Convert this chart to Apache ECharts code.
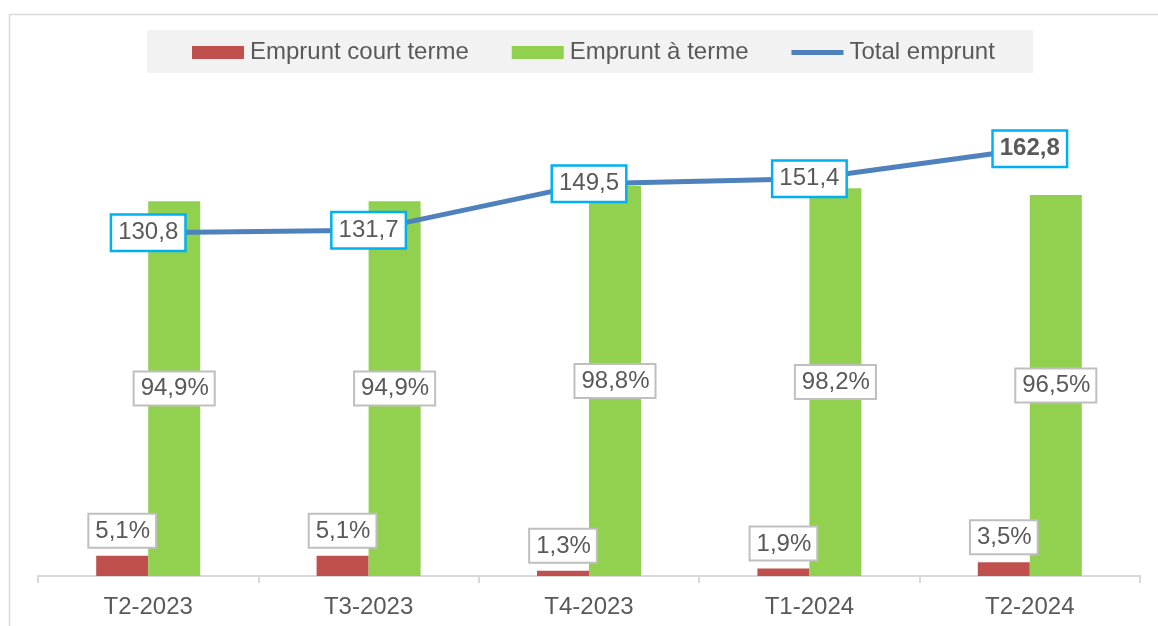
<!DOCTYPE html>
<html>
<head>
<meta charset="utf-8">
<script src="https://cdn.jsdelivr.net/npm/echarts@6/dist/echarts.min.js"></script>
<style>
  html, body { margin: 0; padding: 0; background: #fff; }
  #chart { width: 1158px; height: 626px; }
</style>
</head>
<body>
<div id="chart"></div>
<script>
// trimestres
const categories = ["T2-2023", "T3-2023", "T4-2023", "T1-2024", "T2-2024"];
// parts en %
const courtTerme = [5.1, 5.1, 1.3, 1.9, 3.5];
const aTerme = [94.9, 94.9, 98.8, 98.2, 96.5];
// total emprunt
const totalEmprunt = [130.8, 131.7, 149.5, 151.4, 162.8];

const textColor = "#595959";
const fontFamily = "Liberation Sans, Arial, sans-serif";

const fmt = v => String(v).replace(".", ",");

const pctLabel = {
  show: true,
  color: textColor,
  fontSize: 24,
  fontFamily: fontFamily,
  lineHeight: 27,
  backgroundColor: "#fff",
  borderColor: "#bfbfbf",
  borderWidth: 2,
  padding: [3, 5, 2, 6],
  formatter: p => fmt(p.value) + "%"
};

const chart = echarts.init(document.getElementById("chart"), null, { renderer: "canvas" });

const option = {
  animation: false,
  graphic: [
    {
      type: "rect",
      z: -10,
      shape: { x: 9.5, y: 14.5, width: 1170, height: 640 },
      style: { fill: "#fff", stroke: "#d9d9d9", lineWidth: 1.5 }
    },
    {
      type: "rect",
      z: -5,
      shape: { x: 147, y: 30, width: 886, height: 43 },
      style: { fill: "#f2f2f2" }
    }
  ],
  legend: {
    left: 192,
    top: 39,
    padding: 0,
    itemWidth: 52,
    itemHeight: 13,
    itemGap: 43,
    symbolKeepAspect: true,
    textStyle: { color: textColor, fontSize: 24, fontFamily: fontFamily, lineHeight: 27, padding: [0, 0, 0, 1] },
    data: [
      { name: "Emprunt court terme", icon: "rect" },
      { name: "Emprunt à terme", icon: "rect" },
      { name: "Total emprunt", icon: "path://M0,0H52V5H0Z", itemStyle: { color: "#4f81bd" } }
    ]
  },
  grid: { left: 38, right: 18, top: 80, bottom: 50 },
  xAxis: {
    type: "category",
    data: categories,
    axisLine: { lineStyle: { color: "#d9d9d9", width: 2 } },
    axisTick: { show: true, length: 7, lineStyle: { color: "#d9d9d9", width: 2 } },
    axisLabel: { color: textColor, fontSize: 24, fontFamily: fontFamily, margin: 19 }
  },
  yAxis: [
    { type: "value", min: 0, max: 125.6, show: false, splitLine: { show: false } },
    { type: "value", min: 0, max: 189, show: false, splitLine: { show: false } }
  ],
  series: [
    {
      name: "Emprunt court terme",
      type: "bar",
      yAxisIndex: 0,
      data: courtTerme,
      barWidth: 52,
      barGap: "0%",
      itemStyle: { color: "#c0504d" },
      label: Object.assign({}, pctLabel, { position: "top", distance: 9 })
    },
    {
      name: "Emprunt à terme",
      type: "bar",
      yAxisIndex: 0,
      data: aTerme,
      barWidth: 52,
      barGap: "0%",
      itemStyle: { color: "#92d050" },
      label: Object.assign({}, pctLabel, { position: "inside" })
    },
    {
      name: "Total emprunt",
      type: "line",
      yAxisIndex: 1,
      data: totalEmprunt.map((v, i) => i === totalEmprunt.length - 1
        ? { value: v, label: { fontWeight: "bold" } }
        : v),
      symbol: "circle",
      symbolSize: 1,
      showSymbol: true,
      z: 5,
      itemStyle: { color: "#4f81bd" },
      lineStyle: { color: "#4f81bd", width: 5 },
      label: {
        show: true,
        position: "inside",
        color: textColor,
        fontSize: 24,
        fontFamily: fontFamily,
        lineHeight: 27,
        backgroundColor: "#fff",
        borderColor: "#00b0f0",
        borderWidth: 2.5,
        padding: [4, 6, 3, 6],
        formatter: p => fmt(p.value)
      }
    }
  ]
};

chart.setOption(option);
</script>
</body>
</html>
